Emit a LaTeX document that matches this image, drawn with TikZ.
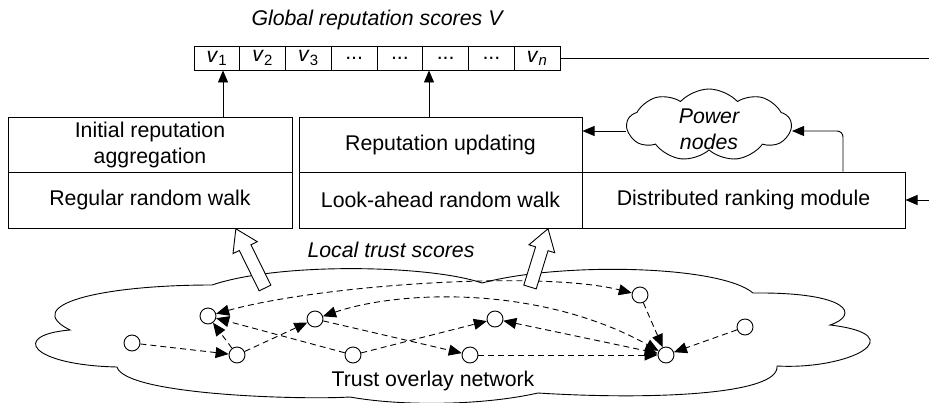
\documentclass[tikz,border=0pt]{standalone}
\usepackage{fontspec}
\setmainfont{Liberation Sans}
\usetikzlibrary{arrows.meta,shapes.symbols}
\begin{document}
\begin{tikzpicture}[x=1pt,y=-1pt,
  txt/.style={font=\fontsize{21.3}{26}\selectfont},
  it/.style={font=\fontsize{21.3}{26}\selectfont\itshape},
  box/.style={txt, draw, line width=1pt, inner sep=0pt, align=center},
  cell/.style={txt, draw, line width=0.9pt, minimum width=45.75pt, minimum height=24pt, inner sep=0pt},
  arr/.style={line width=0.9pt, -{Triangle[length=12pt,width=10pt]}},
  net/.style={draw, fill=white, circle, line width=0.9pt, minimum size=16pt, inner sep=0pt},
  edge/.style={line width=0.9pt, dash pattern=on 6pt off 4pt, -{Triangle[length=13pt,width=11pt]}},
  bedge/.style={line width=0.9pt, dash pattern=on 6pt off 4pt, {Triangle[length=13pt,width=11pt]}-{Triangle[length=13pt,width=11pt]}},
  fat/.style={draw, fill=white, line width=0.9pt, line join=miter}
]
\useasboundingbox (0,0) rectangle (929,402);

% title and vector
\node[it] (title) at (377,20) {Global reputation scores V};
\foreach \i/\t in {1/{\textit{v}\textsubscript{1}},2/{\textit{v}\textsubscript{2}},3/{\textit{v}\textsubscript{3}},4/{...},5/{...},6/{...},7/{...},8/{\textit{v}\textsubscript{\textit{n}}}}
  \node[cell] (c\i) at ({194+45.75*(\i-0.5)},58) {\t};
\coordinate (re) at (929,58);
\draw[line width=0.9pt] (c8.east) -- (re);

% boxes
\node[box, minimum width=284pt, minimum height=55pt] (agg) at (150,144.5) {Initial reputation\\aggregation};
\node[box, minimum width=284pt, minimum height=56pt] (rrw) at (150,200) {Regular random walk};
\node[box, minimum width=283pt, minimum height=55pt] (upd) at (440.5,144.5) {Reputation updating};
\node[box, minimum width=283pt, minimum height=56pt] (lrw) at (440.5,200) {Look-ahead random walk};
\node[box, minimum width=323pt, minimum height=56pt] (dist) at (743.5,200) {Distributed ranking module};

\coordinate (x1) at (223,0);
\coordinate (x2) at (429,0);
\draw[arr] (agg.north -| x1) -- (c1.south -| x1);
\draw[arr] (upd.north -| x2) -- (c6.south -| x2);

\coordinate (ri) at (929,200);
\draw[arr] (ri) -- (dist.east);

% power nodes cloud
\node[cloud, draw, line width=0.9pt, cloud puffs=9, cloud puff arc=95, aspect=2.3, minimum width=164pt, minimum height=72pt, inner sep=0pt] (pw) at (709,125) {};
\node[it, align=center] (pwt) at (709,129) {Power\\nodes};
\coordinate (y1) at (0,131);
\draw[arr] (pw.west |- y1) -- (upd.east |- y1);
\coordinate (x3) at (843,0);
\draw[arr, rounded corners=6pt] (dist.north -| x3) |- (pw.east |- y1);

% overlay network cloud
\draw[line width=0.9pt] (212,285) .. controls (100,285) and (20,305) .. (70,330)
  .. controls (10,335) and (30,365) .. (117,367)
  .. controls (125,395) and (300,400) .. (350,397)
  .. controls (400,406) and (480,406) .. (538,393)
  .. controls (650,400) and (780,395) .. (777,366)
  .. controls (850,370) and (915,335) .. (830,325)
  .. controls (860,315) and (850,292) .. (753,293)
  .. controls (720,265) and (560,262) .. (482,283)
  .. controls (430,265) and (280,262) .. (212,285) -- cycle;

% network nodes
\node[net] (A) at (132,343) {};
\node[net] (B) at (208,316) {};
\node[net] (C) at (237,355) {};
\node[net] (D) at (315,319) {};
\node[net] (E) at (353,355) {};
\node[net] (F) at (470,355) {};
\node[net] (G) at (495,319) {};
\node[net] (H) at (640,295) {};
\node[net] (I) at (666,355) {};
\node[net] (J) at (745,327) {};

\draw[edge] (A) -- (C);
\draw[edge] (C) -- (B);
\draw[edge] (C) -- (D);
\draw[edge] (E) -- (B);
\draw[edge] (D) -- (F);
\draw[edge] (E) -- (G);
\draw[bedge] (B) .. controls (320,285) and (540,270) .. (H);
\draw[bedge] (D) .. controls (400,290) and (540,285) .. (I);
\draw[bedge] (G) -- (I);
\draw[edge] (F) -- (I);
\draw[edge] (H) -- (I);
\draw[edge] (J) -- (I);

% hollow arrows
\begin{scope}[shift={(265,288)}, rotate=116.2]
  \draw[fat] (0,-6.5) -- (45,-6.5) -- (45,-13.5) -- (66,0) -- (45,13.5) -- (45,6.5) -- (0,6.5) -- cycle;
\end{scope}
\begin{scope}[shift={(530,287)}, rotate=72.8]
  \draw[fat] (0,-6.5) -- (40,-6.5) -- (40,-13.5) -- (61,0) -- (40,13.5) -- (40,6.5) -- (0,6.5) -- cycle;
\end{scope}

\node[it] (lts) at (391,250) {Local trust scores};
\node[txt] (ton) at (433,381) {Trust overlay network};
\end{tikzpicture}
\end{document}
